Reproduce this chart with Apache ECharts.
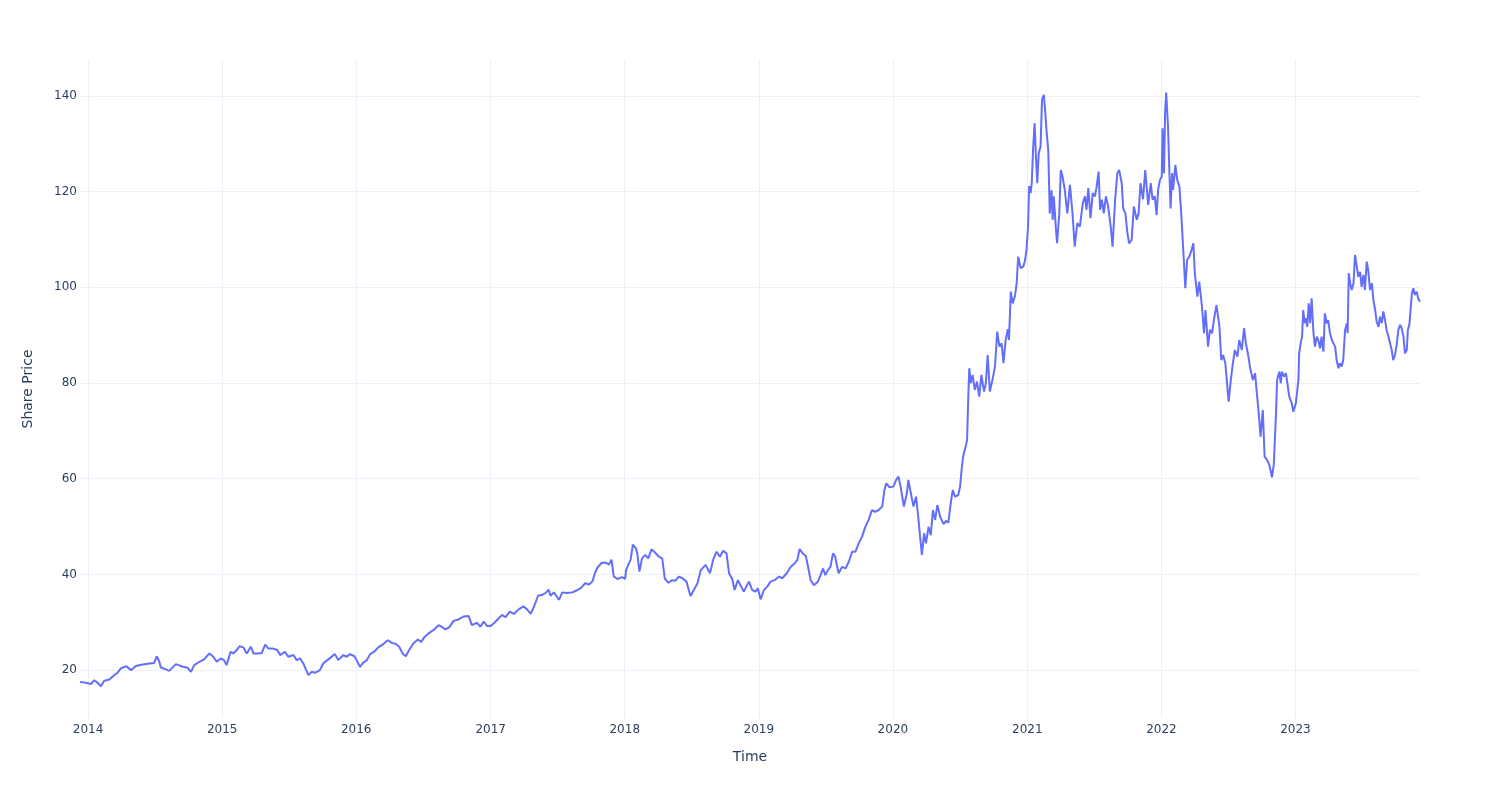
<!DOCTYPE html>
<html>
<head>
<meta charset="utf-8">
<title>Share Price</title>
<script src="https://cdn.jsdelivr.net/npm/echarts@6/dist/echarts.min.js"></script>
<style>
  html, body { margin: 0; padding: 0; background: #fff; }
  #chart { width: 1500px; height: 800px; }
</style>
</head>
<body>
<div id="chart"></div>
<script>
const dates = [
  "2013-12-10","2013-12-26","2014-01-09","2014-01-18","2014-01-27","2014-02-05","2014-02-14","2014-02-28","2014-03-13","2014-03-22",
  "2014-03-31","2014-04-14","2014-04-28","2014-05-11","2014-05-30","2014-06-17","2014-06-30","2014-07-07","2014-07-14","2014-07-18",
  "2014-08-01","2014-08-10","2014-08-28","2014-09-16","2014-09-29","2014-10-08","2014-10-17","2014-10-31","2014-11-13","2014-11-27",
  "2014-12-08","2014-12-17","2014-12-28","2015-01-06","2015-01-13","2015-01-24","2015-01-31","2015-02-10","2015-02-17","2015-02-28",
  "2015-03-09","2015-03-20","2015-03-27","2015-04-09","2015-04-19","2015-04-28","2015-05-07","2015-05-20","2015-05-31","2015-06-08",
  "2015-06-21","2015-06-30","2015-07-14","2015-07-23","2015-08-01","2015-08-10","2015-08-17","2015-08-24","2015-09-02","2015-09-11",
  "2015-09-24","2015-10-03","2015-10-17","2015-10-22","2015-11-04","2015-11-13","2015-11-27","2015-12-06","2015-12-15","2015-12-27",
  "2016-01-02","2016-01-11","2016-01-20","2016-01-30","2016-02-08","2016-02-19","2016-03-01","2016-03-15","2016-03-27","2016-04-07",
  "2016-04-18","2016-04-27","2016-05-06","2016-05-15","2016-05-24","2016-06-05","2016-06-17","2016-06-26","2016-07-05","2016-07-18",
  "2016-07-29","2016-08-12","2016-08-21","2016-08-30","2016-09-10","2016-09-22","2016-10-05","2016-10-19","2016-11-02","2016-11-11",
  "2016-11-25","2016-12-04","2016-12-13","2016-12-22","2017-01-01","2017-01-10","2017-01-23","2017-02-01","2017-02-10","2017-02-22",
  "2017-03-05","2017-03-19","2017-04-01","2017-04-11","2017-04-20","2017-04-29","2017-05-10","2017-05-21","2017-05-30","2017-06-08",
  "2017-06-13","2017-06-22","2017-07-06","2017-07-15","2017-07-28","2017-08-11","2017-08-23","2017-09-03","2017-09-16","2017-09-25",
  "2017-10-05","2017-10-12","2017-10-18","2017-10-30","2017-11-10","2017-11-19","2017-11-26","2017-12-02","2017-12-12","2017-12-25",
  "2018-01-02","2018-01-05","2018-01-12","2018-01-17","2018-01-23","2018-01-31","2018-02-04","2018-02-10","2018-02-17","2018-02-26",
  "2018-03-06","2018-03-15","2018-03-26","2018-04-04","2018-04-13","2018-04-20","2018-04-30","2018-05-10","2018-05-19","2018-05-28",
  "2018-06-07","2018-06-18","2018-06-29","2018-07-08","2018-07-18","2018-07-27","2018-08-09","2018-08-21","2018-08-30","2018-09-08",
  "2018-09-17","2018-09-26","2018-10-05","2018-10-12","2018-10-21","2018-10-27","2018-11-05","2018-11-14","2018-11-21","2018-12-05",
  "2018-12-14","2018-12-23","2018-12-29","2019-01-06","2019-01-15","2019-01-24","2019-02-02","2019-02-13","2019-02-25","2019-03-06",
  "2019-03-18","2019-03-29","2019-04-09","2019-04-16","2019-04-22","2019-04-30","2019-05-09","2019-05-15","2019-05-22","2019-05-31",
  "2019-06-11","2019-06-18","2019-06-25","2019-07-01","2019-07-08","2019-07-15","2019-07-22","2019-07-28","2019-08-06","2019-08-16",
  "2019-08-25","2019-09-03","2019-09-12","2019-09-21","2019-09-30","2019-10-09","2019-10-18","2019-10-27","2019-11-05","2019-11-14",
  "2019-11-23","2019-12-03","2019-12-09","2019-12-14","2019-12-23","2020-01-02","2020-01-10","2020-01-16","2020-01-22","2020-01-31",
  "2020-02-08","2020-02-12","2020-02-19","2020-02-26","2020-03-04","2020-03-10","2020-03-15","2020-03-20","2020-03-26","2020-03-31",
  "2020-04-07","2020-04-13","2020-04-19","2020-04-25","2020-05-01","2020-05-09","2020-05-18","2020-05-25","2020-05-31","2020-06-07",
  "2020-06-12","2020-06-18","2020-06-27","2020-07-02","2020-07-06","2020-07-10","2020-07-18","2020-07-21","2020-07-24","2020-07-27",
  "2020-07-31","2020-08-05","2020-08-11","2020-08-17","2020-08-23","2020-08-29","2020-09-05","2020-09-10","2020-09-15","2020-09-21",
  "2020-09-28","2020-10-05","2020-10-11","2020-10-17","2020-10-23","2020-10-28","2020-11-03","2020-11-09","2020-11-12","2020-11-17",
  "2020-11-22","2020-11-28","2020-12-03","2020-12-07","2020-12-14","2020-12-21","2020-12-26","2020-12-30","2021-01-03","2021-01-06",
  "2021-01-10","2021-01-13","2021-01-17","2021-01-21","2021-01-24","2021-01-28","2021-02-01","2021-02-06","2021-02-10","2021-02-15",
  "2021-02-19","2021-02-22","2021-02-27","2021-03-03","2021-03-08","2021-03-11","2021-03-14","2021-03-20","2021-03-23","2021-03-29",
  "2021-04-02","2021-04-07","2021-04-13","2021-04-20","2021-04-27","2021-05-04","2021-05-10","2021-05-17","2021-05-24","2021-06-01",
  "2021-06-07","2021-06-11","2021-06-16","2021-06-22","2021-06-28","2021-07-04","2021-07-09","2021-07-14","2021-07-18","2021-07-23",
  "2021-07-28","2021-08-03","2021-08-09","2021-08-16","2021-08-21","2021-08-28","2021-09-03","2021-09-08","2021-09-15","2021-09-19",
  "2021-09-25","2021-09-30","2021-10-05","2021-10-12","2021-10-18","2021-10-26","2021-10-31","2021-11-05","2021-11-12","2021-11-18",
  "2021-11-22","2021-11-26","2021-12-03","2021-12-08","2021-12-14","2021-12-19","2021-12-23","2021-12-28","2022-01-02","2022-01-04",
  "2022-01-08","2022-01-11","2022-01-14","2022-01-19","2022-01-22","2022-01-26","2022-01-30","2022-02-02","2022-02-08","2022-02-13",
  "2022-02-19","2022-02-24","2022-02-28","2022-03-03","2022-03-07","2022-03-12","2022-03-18","2022-03-24","2022-03-29","2022-04-02",
  "2022-04-09","2022-04-14","2022-04-21","2022-04-27","2022-05-01","2022-05-08","2022-05-13","2022-05-19","2022-05-24","2022-05-31",
  "2022-06-08","2022-06-13","2022-06-18","2022-06-24","2022-06-29","2022-07-03","2022-07-09","2022-07-14","2022-07-20","2022-07-27",
  "2022-08-01","2022-08-08","2022-08-14","2022-08-19","2022-08-26","2022-08-30","2022-09-07","2022-09-13","2022-09-17","2022-09-23",
  "2022-09-28","2022-10-04","2022-10-09","2022-10-16","2022-10-22","2022-10-29","2022-11-03","2022-11-09","2022-11-12","2022-11-18",
  "2022-11-22","2022-11-25","2022-12-01","2022-12-06","2022-12-10","2022-12-15","2022-12-22","2022-12-26","2023-01-02","2023-01-04",
  "2023-01-09","2023-01-11","2023-01-15","2023-01-19","2023-01-22","2023-01-26","2023-01-30","2023-02-02","2023-02-06","2023-02-10",
  "2023-02-14","2023-02-19","2023-02-23","2023-02-28","2023-03-04","2023-03-09","2023-03-13","2023-03-18","2023-03-22","2023-03-27",
  "2023-03-31","2023-04-05","2023-04-10","2023-04-14","2023-04-19","2023-04-23","2023-04-28","2023-05-02","2023-05-07","2023-05-11",
  "2023-05-16","2023-05-21","2023-05-23","2023-05-26","2023-05-30","2023-06-03","2023-06-08","2023-06-12","2023-06-17","2023-06-21",
  "2023-06-26","2023-06-30","2023-07-05","2023-07-09","2023-07-14","2023-07-18","2023-07-23","2023-07-28","2023-08-01","2023-08-06",
  "2023-08-10","2023-08-15","2023-08-19","2023-08-24","2023-08-28","2023-09-02","2023-09-06","2023-09-11","2023-09-15","2023-09-20",
  "2023-09-24","2023-09-29","2023-10-04","2023-10-08","2023-10-13","2023-10-17","2023-10-22","2023-10-26","2023-10-31","2023-11-03",
  "2023-11-07","2023-11-11","2023-11-14","2023-11-18","2023-11-22","2023-11-27","2023-12-01","2023-12-06"
];

const prices = [
  17.55,17.35,17.1,17.9,17.35,16.65,17.8,18.05,18.95,19.45,
  20.35,20.85,20.0,20.85,21.2,21.4,21.5,22.9,21.75,20.55,
  20.15,19.85,21.25,20.7,20.5,19.65,21.05,21.75,22.25,23.5,
  22.8,21.75,22.45,22.1,21.05,23.85,23.5,24.2,25.0,24.75,
  23.5,24.9,23.5,23.5,23.6,25.35,24.5,24.5,24.2,23.15,
  23.85,22.8,23.15,22.1,22.45,21.4,20.15,18.95,19.65,19.45,
  20.0,21.4,22.25,22.25,23.35,22.1,23.15,22.8,23.35,22.9,
  22.1,20.7,21.55,22.1,23.35,23.85,24.75,25.45,26.25,25.7,
  25.45,24.9,23.5,22.9,24.2,25.6,26.4,25.9,26.95,27.8,
  28.35,29.4,29.05,28.5,28.95,30.3,30.6,31.2,31.3,29.4,
  29.9,29.05,30.15,29.25,29.25,29.8,30.85,31.55,31.05,32.25,
  31.75,32.75,33.3,32.6,31.75,33.3,35.55,35.75,36.1,36.8,
  35.55,36.25,34.7,36.25,36.1,36.25,36.65,37.15,38.2,37.85,
  38.55,40.3,41.35,42.4,42.5,42.05,43.1,39.6,39.05,39.45,
  39.05,41.0,42.25,43.1,46.2,45.5,44.45,40.6,43.35,44.1,
  43.35,45.25,44.45,43.7,43.35,39.15,38.25,38.8,38.7,39.55,
  39.2,38.5,35.5,36.75,38.15,40.9,42.0,40.25,43.15,44.75,
  43.7,44.95,44.4,40.25,39.0,36.75,38.8,37.45,36.4,38.5,
  36.75,36.4,37.1,34.8,36.75,37.45,38.5,38.8,39.55,39.2,
  40.25,41.6,42.35,43.05,45.3,44.45,43.85,41.6,38.8,37.75,
  38.5,39.85,41.25,39.85,40.9,41.6,44.4,43.7,40.25,41.6,
  41.25,42.65,44.75,44.75,46.5,47.9,49.95,51.4,53.45,53.1,
  53.45,54.2,57.65,59.05,58.2,58.35,59.75,60.45,58.35,54.2,
  56.95,59.75,56.95,54.2,56.25,52.05,47.9,44.1,48.6,46.5,
  49.95,48.2,53.45,51.4,54.5,52.0,50.5,51.2,50.8,55.2,
  57.65,56.25,56.6,58.35,61.8,64.6,67.05,68.1,76.45,83.1,
  79.95,81.7,78.55,80.3,77.15,81.7,78.2,79.95,85.85,78.2,
  80.65,83.45,90.75,87.6,88.3,84.15,89.0,91.25,89.0,99.1,
  96.65,98.05,100.85,106.4,104.0,104.3,105.7,108.0,112.8,121.15,
  119.7,121.75,129.4,134.3,128.0,121.75,128.0,129.4,139.2,140.2,
  136.4,132.9,128.7,115.45,120.3,114.1,119.0,112.0,109.2,115.45,
  124.5,123.1,120.3,115.45,121.4,115.45,108.5,113.4,112.7,117.6,
  119.0,116.2,120.75,114.45,119.7,119.0,121.15,124.2,116.2,118.3,
  115.45,119.0,116.9,112.7,108.5,118.3,123.85,124.5,121.75,116.5,
  115.45,111.6,109.2,109.9,116.9,114.1,115.45,121.75,118.4,124.5,
  124.9,117.2,121.75,118.3,119.0,115.1,120.35,122.45,123.15,133.25,
  123.85,136.4,140.7,133.6,125.95,116.5,123.85,120.35,125.6,122.45,
  121.05,115.45,109.9,105.7,99.8,105.7,106.4,107.8,109.2,102.9,
  98.05,101.2,96.3,90.4,95.25,87.6,91.1,90.4,93.2,96.3,
  91.75,84.8,85.85,84.15,84.15,76.1,80.65,83.8,86.9,85.5,
  89.0,86.9,91.45,88.3,85.5,83.4,80.65,82.05,78.55,73.65,
  68.8,74.35,64.6,63.9,62.85,60.3,63.0,73.65,80.65,82.4,
  79.95,82.4,81.35,82.05,79.95,77.15,75.75,74.0,75.75,77.15,
  80.65,86.2,88.3,89.7,95.25,92.5,93.5,91.75,96.65,92.5,
  97.7,90.4,87.6,89.7,89.0,87.25,89.7,86.55,94.55,92.5,
  93.15,90.4,89.0,88.65,87.6,84.8,83.1,84.15,83.45,84.8,
  91.1,92.5,90.4,102.95,100.85,99.45,100.85,106.75,104.3,102.2,
  103.25,100.1,102.6,99.45,105.35,103.6,99.45,100.85,97.35,95.25,
  92.8,91.75,93.85,92.5,94.95,93.15,91.1,89.7,89.7,86.9,
  84.8,85.85,88.3,91.1,92.15,91.45,89.7,86.2,86.9,91.1,
  92.15,95.95,98.75,99.8,98.4,99.1,97.7,97.0
];

const xAxisTitle = "Time";
const yAxisTitle = "Share Price";

const seriesData = dates.map((d, i) => [d, prices[i]]);

const chart = echarts.init(document.getElementById('chart'), null, { renderer: 'canvas' });
const fontFamily = "'DejaVu Sans', Verdana, sans-serif";
const textColor = '#2a3f5f';
const gridColor = '#EBF0F8';

chart.setOption({
  backgroundColor: '#ffffff',
  animation: false,
  grid: { left: 80, right: 80, top: 60, bottom: 82, containLabel: false },
  xAxis: {
    type: 'time',
    min: dates[0],
    max: dates[dates.length - 1],
    minInterval: 365 * 24 * 3600 * 1000,
    maxInterval: 366 * 24 * 3600 * 1000,
    name: xAxisTitle,
    nameLocation: 'middle',
    nameGap: 32,
    nameTextStyle: { color: textColor, fontSize: 14, fontFamily: fontFamily },
    axisLine: { show: false },
    axisTick: { show: false },
    axisLabel: {
      color: textColor, fontSize: 12, fontFamily: fontFamily, margin: 6,
      showMinLabel: false, showMaxLabel: false,
      formatter: function (v) { return String(new Date(v).getFullYear()); }
    },
    splitLine: { show: true, showMinLine: false, showMaxLine: false, lineStyle: { color: gridColor, width: 1 } }
  },
  yAxis: {
    type: 'value',
    min: 10,
    max: 147.5,
    splitNumber: 7,
    name: yAxisTitle,
    nameLocation: 'middle',
    nameGap: 45,
    nameTextStyle: { color: textColor, fontSize: 14, fontFamily: fontFamily },
    axisLine: { show: false },
    axisTick: { show: false },
    axisLabel: {
      color: textColor, fontSize: 12, fontFamily: fontFamily, margin: 3,
      showMinLabel: false, showMaxLabel: false
    },
    splitLine: { show: true, showMinLine: false, showMaxLine: false, lineStyle: { color: gridColor, width: 1 } }
  },
  series: [{
    type: 'line',
    data: seriesData,
    showSymbol: false,
    symbol: 'none',
    lineStyle: { color: '#636efa', width: 2 },
    itemStyle: { color: '#636efa' }
  }]
});
</script>
</body>
</html>
